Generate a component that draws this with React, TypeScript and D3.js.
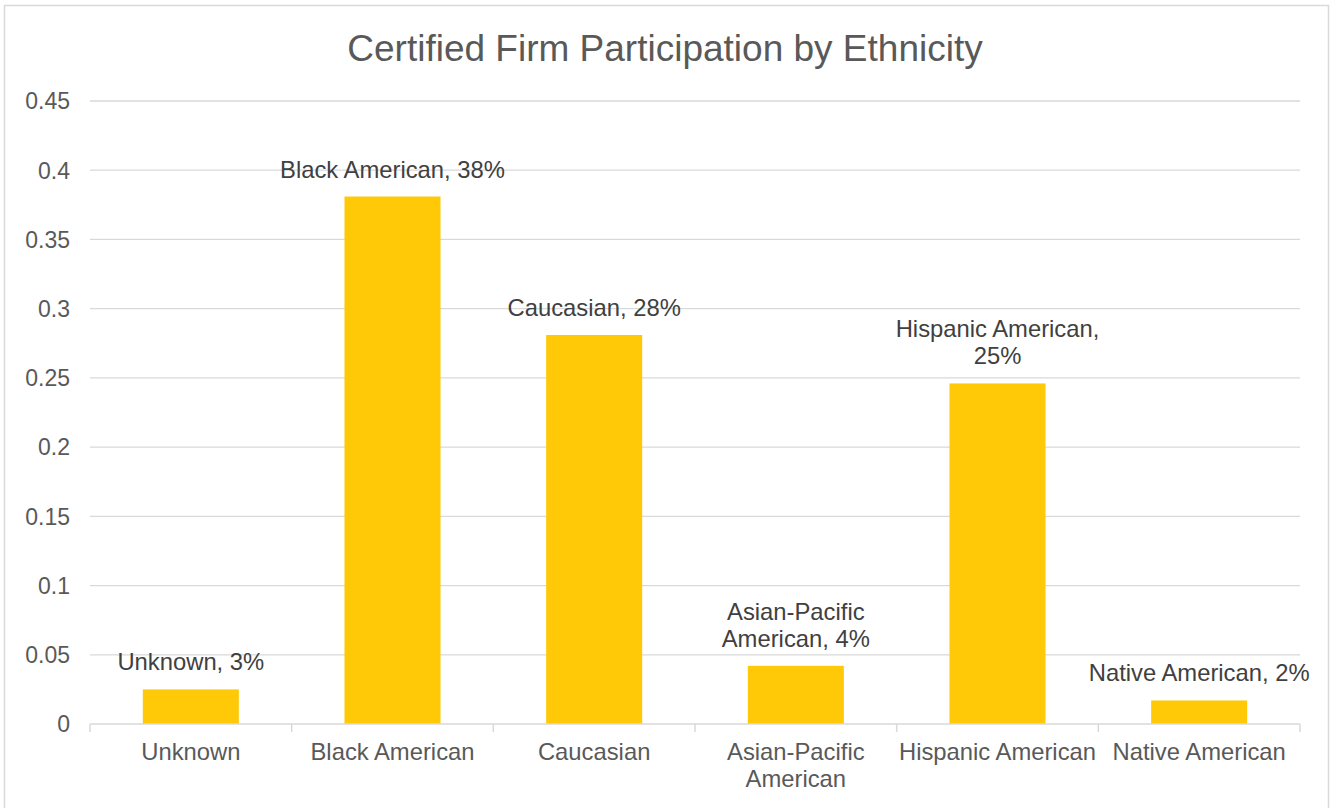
import React, { useEffect, useRef } from 'react';
import * as d3 from 'd3';

const categories = ['Unknown', 'Black American', 'Caucasian', 'Asian-Pacific American', 'Hispanic American', 'Native American'];
const categoryLines = [['Unknown'], ['Black American'], ['Caucasian'], ['Asian-Pacific', 'American'], ['Hispanic American'], ['Native American']];
const shares = [0.025, 0.381, 0.281, 0.042, 0.246, 0.017];
const dataLabels = [
    ['Unknown, 3%'],
    ['Black American, 38%'],
    ['Caucasian, 28%'],
    ['Asian-Pacific', 'American, 4%'],
    ['Hispanic American,', '25%'],
    ['Native American, 2%'],
];
const yTicks = [0, 0.05, 0.1, 0.15, 0.2, 0.25, 0.3, 0.35, 0.4, 0.45];

const W = 1330, H = 808;
const FONT = '"Liberation Sans", Arial, sans-serif';

export default function App() {
    const ref = useRef<SVGSVGElement>(null);

    useEffect(() => {
        const svg = d3.select(ref.current);
        svg.selectAll('*').remove();

        const margin = { top: 101, left: 90, right: 30, bottom: 84 };
        const width = W - margin.left - margin.right,
            height = H - margin.top - margin.bottom;

        // outer chart border
        svg.append('rect')
            .attr('x', 4.5).attr('y', 5.5)
            .attr('width', 1324).attr('height', 820)
            .attr('fill', '#fff')
            .attr('stroke', '#d9d9d9')
            .attr('stroke-width', 1.5);

        svg.append('text')
            .attr('x', W / 2)
            .attr('y', 61)
            .attr('text-anchor', 'middle')
            .attr('fill', '#595959')
            .style('font-size', '37px')
            .text('Certified Firm Participation by Ethnicity');

        const g = svg.append('g')
            .attr('transform', 'translate(' + margin.left + ',' + margin.top + ')');

        const gap = 1.1 / 2.1;
        const x = d3.scaleBand()
            .domain(categories)
            .range([0, width])
            .paddingInner(gap)
            .paddingOuter(gap / 2);

        const y = d3.scaleLinear()
            .domain([0, 0.45])
            .range([height, 0]);

        // gridlines
        g.append('g').selectAll('line')
            .data(yTicks.slice(1))
            .enter().append('line')
            .attr('x1', 0).attr('x2', width)
            .attr('y1', d => y(d)).attr('y2', d => y(d))
            .attr('stroke', '#d9d9d9')
            .attr('stroke-width', 1.3);

        g.append('g').selectAll('text')
            .data(yTicks)
            .enter().append('text')
            .attr('x', -20)
            .attr('y', d => y(d))
            .attr('dy', '0.36em')
            .attr('text-anchor', 'end')
            .attr('fill', '#595959')
            .style('font-size', '23px')
            .text(d => String(d));

        // bars
        g.append('g').selectAll('rect')
            .data(shares)
            .enter().append('rect')
            .attr('x', (d, i) => x(categories[i]) as number)
            .attr('y', d => y(d))
            .attr('width', x.bandwidth())
            .attr('height', d => height - y(d))
            .attr('fill', '#ffc908');

        // category axis
        const step = x.step();
        g.append('line')
            .attr('x1', 0).attr('x2', width)
            .attr('y1', height).attr('y2', height)
            .attr('stroke', '#d9d9d9')
            .attr('stroke-width', 1.5);

        g.append('g').selectAll('line')
            .data(d3.range(categories.length + 1))
            .enter().append('line')
            .attr('x1', i => i * step).attr('x2', i => i * step)
            .attr('y1', height).attr('y2', height + 8)
            .attr('stroke', '#d9d9d9')
            .attr('stroke-width', 1.5);

        const catLabels = g.append('g').selectAll('text')
            .data(categories)
            .enter().append('text')
            .attr('x', d => (x(d) as number) + x.bandwidth() / 2)
            .attr('y', height + 36)
            .attr('text-anchor', 'middle')
            .attr('fill', '#595959')
            .style('font-size', '23.8px');
        catLabels.each(function (d, i) {
            const t = d3.select(this);
            categoryLines[i].forEach((line, j) => {
                t.append('tspan')
                    .attr('x', (x(d) as number) + x.bandwidth() / 2)
                    .attr('dy', j === 0 ? 0 : 27)
                    .text(line);
            });
        });

        // data labels
        const labels = g.append('g').selectAll('text')
            .data(shares)
            .enter().append('text')
            .attr('text-anchor', 'middle')
            .attr('fill', '#404040')
            .style('font-size', '23.8px');
        labels.each(function (d, i) {
            const t = d3.select(this);
            const lines = dataLabels[i];
            const cx = (x(categories[i]) as number) + x.bandwidth() / 2;
            t.attr('y', y(d) - 19 - (lines.length - 1) * 27);
            lines.forEach((line, j) => {
                t.append('tspan')
                    .attr('x', cx)
                    .attr('dy', j === 0 ? 0 : 27)
                    .text(line);
            });
        });
    }, []);

    return (
        <svg ref={ref} width={W} height={H}
            style={{ position: 'absolute', left: 0, top: 0, fontFamily: FONT }} />
    );
}
